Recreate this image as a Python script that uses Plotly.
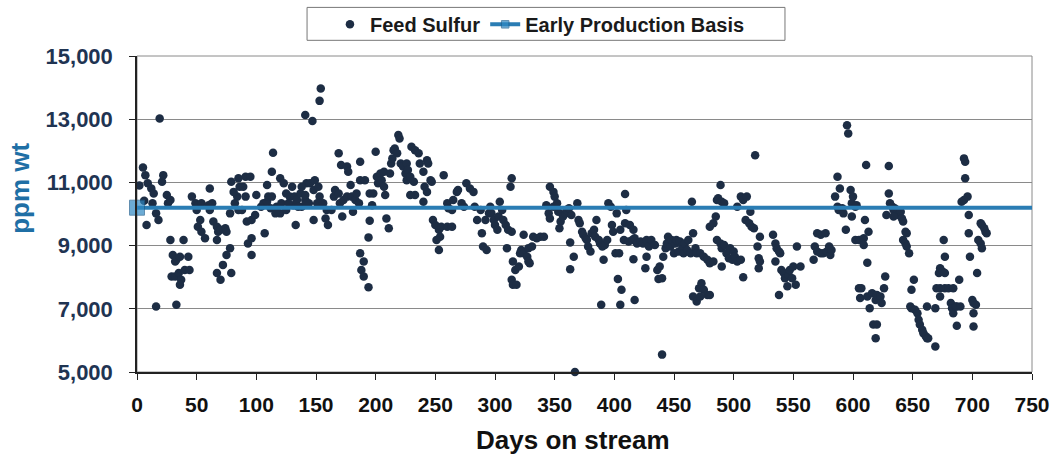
import plotly.graph_objects as go

# Feed sulfur observations (day on stream, ppm wt)
days_a = [5,2,7,9,12,14,6,8,13,16,18,19,16,21,22,25,26,28,28,39,30,32,33,36,43,29,32,35,37,36,40,44,33,
          46,49,51,54,50,53,51,54,57,61,60,63,61,64,67,68,70,74,75,67,78,75,72,67,70,79,79,85,86,84,81,82,
          91,89,91,88,85,78,95,92,96,99,93,96,96,100,107,104,106,109,110,113,109,113,114,117,120,121,120,
          123,125,128,130,132,131,134,137,138,141,142,144,133,112,116,125,127,135]
sulfur_a = [11470,10900,11230,10970,10810,10650,10420,9650,10340,10020,9810,13020,7070,11020,11230,10600,
            10340,10440,9180,9180,8700,8500,8550,8650,8650,8020,8020,8130,7920,7760,8230,8230,7130,
            10550,10340,10280,10340,10130,9810,9600,9440,9230,10810,10280,10340,10130,9760,9600,9440,9500,
            9550,9440,9180,8920,8700,8390,8130,7920,8130,11020,11130,10860,10550,10700,10340,
            11180,10860,10550,10130,10130,10020,11180,9760,9810,9970,9070,9230,8700,10600,9390,10230,10340,
            10390,10550,10550,10920,11340,11940,10230,10020,10340,11130,
            10970,10650,10550,10860,10550,10280,10440,10650,10230,10440,10970,10340,9650,10180,10020,10130,10340,10230]

days_b = [154,153,141,147,138,141,142,145,149,148,152,153,151,148,156,159,158,160,163,165,166,169,170,172,
          173,176,179,180,181,183,184,186,169,171,176,177,187,187,191,187,190,188,190,194,194,195,197,195,
          198,200,201,204,207,205,202,207,208,209,211,212,213,214,215,216,218,219,220,221,223,226,225,227,
          226,229,230,233,236,232,233,229,237,240,243,244,246,241,243,240,247,257,248,250,253,254,255,251,
          253,260,264,260,261,264,265,268,269,272,274,276,279,282,283,285,288,289,290,293,292,295]
sulfur_b = [13970,13580,13130,12940,10860,10600,10340,10970,11070,10760,10860,10550,10340,9810,10340,10130,
            9860,9650,10130,10550,10760,10650,10340,9920,10440,10550,10920,10550,10070,10440,10650,10340,
            11920,11550,11500,11340,11650,11070,11070,8760,8500,8230,8020,7680,9260,9790,10280,10650,
            10650,11970,11180,11280,11340,11070,10970,10860,10600,9860,9550,11280,11600,11760,12020,12070,
            11920,12500,12390,11600,11500,11600,11280,11390,11070,11180,12130,12020,11920,11020,10600,10600,
            11600,11340,11700,11600,11070,10860,10700,10390,11020,11230,9810,9650,9500,9280,9600,9180,
            8860,9600,9600,10340,10180,10130,10440,10700,10760,10340,10230,10970,10810,10700,10230,9810,
            10130,9390,8970,8860,9810,10020]

days_c = [296,297,299,300,302,303,304,306,307,309,311,314,313,314,310,315,317,314,315,318,320,321,322,324,
          327,328,329,324,328,331,332,335,338,341,346,349,350,343,345,346,349,352,353,355,354,357,359,360,
          362,364,363,366,363,367,369,370,371,373,374,376,377,378,380,381,383,384,385,387,388,390,391,392,
          394,395,397,398,399,401,402,404,405,389,405,403,406,417,409,410,409,413,416,408,412,415,417,419,
          422,424,427,429,431,434,416,427,426,436,437,440]
sulfur_c = [10230,10020,9810,9650,9500,9920,10390,10130,9810,9650,9500,9440,10860,11130,8920,8500,8230,7920,
            7760,7760,8340,8760,8860,8760,8650,8500,8440,9340,8920,8970,9280,9230,9280,9280,10860,10700,
            10550,10280,10020,9860,10230,10340,10070,9760,9550,9920,10020,10130,10180,9970,9100,8650,8250,
            5000,10340,9810,9710,9440,9340,9230,9180,8970,8810,9390,9500,9280,9810,9180,9070,8970,8550,
            9020,9180,10340,10230,9650,9440,8760,10020,8760,9500,7130,7130,7940,7600,7280,10630,10130,9710,
            9650,9500,9180,9130,9180,9230,9070,9130,9070,9180,8970,9180,9020,8570,8650,8280,8230,7940,5550]

days_d = [438,440,441,443,444,445,447,448,450,451,452,454,455,457,458,459,461,462,464,465,466,468,469,472,
          475,478,480,483,466,469,471,473,475,478,480,472,480,483,485,486,487,489,490,492,486,489,490,492,
          494,496,497,499,500,501,503,506,490,508,503,506,508,511,510,513,514,515,517,518,520,521,522,521,
          522,533,535,536,538,539,535,540,542,543,545,546,547,549,550,552,553,556,538,570,573,577,568,570,
          573,575,578,580,581,582,567,587,589,585,587,588,591,592,594,595,596]
sulfur_d = [8340,7970,8650,8920,9070,9280,8970,9180,8760,9070,9180,8810,9130,8970,8760,9070,8860,9180,8760,
            10390,9390,8920,8760,8760,8650,8550,8440,8500,7390,7230,7650,7810,7600,7440,7440,7390,9600,
            9710,9920,10440,10500,10920,10390,10340,9180,9070,8920,9020,8760,8600,8920,8550,8810,8650,8500,
            8550,8340,8000,10230,10550,10440,10550,9810,9710,10070,9600,9550,11860,8970,8600,8500,8280,
            9280,9340,9070,8920,8810,8760,8500,8230,8130,7970,7710,8070,8230,7970,8340,7760,8970,8340,7440,
            9390,9340,9390,8970,8810,8760,8760,8810,8970,8700,8860,8550,11180,10810,10550,10230,10130,10180,
            10020,9500,12810,12550]

days_e = [598,600,599,603,602,599,602,605,609,610,609,613,612,611,630,605,607,606,612,616,614,619,620,623,
          624,626,627,617,620,619,630,631,633,634,635,637,638,640,641,642,628,634,644,645,642,644,645,647,
          651,649,648,649,652,654,655,656,658,659,661,662,663,662,669,669,672,673,675,677,670,673,673,677,
          680,684,689,682,683,684,686,687,690,687,676,677,693,694,694,696,693,691,697,697,698,700,701,703,
          701,701,704,707,708,710,711,712,705,707,708]
sulfur_e = [10760,10550,10340,10280,10230,9920,9180,9180,9230,9810,9020,9440,8460,11550,11520,7650,7650,
            7340,7390,7490,7020,7280,7440,7390,7180,7650,8020,6500,6500,6070,10650,10340,10230,10130,10180,
            10020,9970,10070,9860,9760,9970,9920,9440,9390,9180,9070,8970,8760,7920,7600,7070,7020,6970,
            6860,6650,6500,6340,6230,6130,6070,6070,7070,5810,7020,8130,8280,8180,8130,7650,7650,7390,7650,
            7650,7650,7920,7180,7020,6860,7070,7070,7070,6460,9180,8650,11760,11650,11130,10550,10440,10390,
            9970,9390,8650,7280,7180,7130,6860,6440,8130,9710,9650,9550,9440,9390,9180,9070,8920]

days = days_a + days_b + days_c + days_d + days_e
sulfur = sulfur_a + sulfur_b + sulfur_c + sulfur_d + sulfur_e

# Early production basis
basis_days = [0, 750]
basis_value = [10200, 10200]

y_ticks = [5000, 7000, 9000, 11000, 13000, 15000]
x_ticks = list(range(0, 751, 50))

FONT = "Liberation Sans, Arial, sans-serif"

fig = go.Figure()
fig.add_trace(go.Scatter(
    x=days, y=sulfur, mode="markers", name="Feed Sulfur",
    marker=dict(color="#1d2d44", size=8.5, line=dict(width=0)),
    cliponaxis=False,
))
fig.add_trace(go.Scatter(
    x=basis_days, y=basis_value, mode="lines+markers", name="Early Production Basis",
    line=dict(color="#2a7db4", width=4),
    marker=dict(symbol="square", size=[15, 0], color="#2f88c2",
                line=dict(color="#1f5f8f", width=1)),
    cliponaxis=False,
))

fig.update_layout(
    width=1056, height=457,
    margin=dict(l=137, r=24, t=56, b=85, autoexpand=False),
    paper_bgcolor="white", plot_bgcolor="white",
    font=dict(family=FONT, color="#111111"),
    showlegend=True,
    legend=dict(
        orientation="h", x=0.2156, xanchor="left", y=1.162, yanchor="top",
        borderwidth=0, bgcolor="rgba(0,0,0,0)",
        font=dict(family=FONT, size=20, weight="bold", color="#1a1a1a"),
        itemwidth=30, traceorder="normal",
    ),
    shapes=[
        dict(type="rect", xref="paper", yref="paper", x0=0, x1=1, y0=0, y1=1,
             line=dict(color="#8a8a8a", width=1), layer="below"),
        dict(type="rect", xref="paper", yref="paper", x0=0.19, x1=0.724, y0=1.0496, y1=1.1538,
             line=dict(color="#777777", width=1), fillcolor="white", layer="below"),
    ],
    annotations=[
        dict(text="ppm wt", textangle=-90, xref="paper", yref="paper",
             x=-0.131, y=0.582, xanchor="center", yanchor="middle", showarrow=False,
             font=dict(family=FONT, size=26, weight="bold", color="#1f6fa5")),
        dict(text="Days on stream", xref="paper", yref="paper",
             x=0.487, y=-0.2138, xanchor="center", yanchor="middle", showarrow=False,
             font=dict(family=FONT, size=26, weight="bold", color="#111111")),
    ],
)
fig.update_xaxes(
    range=[0, 750], tickvals=x_ticks, showgrid=False, zeroline=False,
    showline=True, linecolor="#222222", linewidth=1.5,
    ticks="outside", ticklen=6, tickcolor="#222222", ticklabelstandoff=7,
    tickfont=dict(family=FONT, size=21, weight="bold", color="#111111"),
)
fig.update_yaxes(
    range=[5000, 15000], tickvals=y_ticks, tickformat=",d",
    showgrid=True, gridcolor="#8a8a8a", gridwidth=1, zeroline=False,
    showline=True, linecolor="#222222", linewidth=1.5,
    ticks="outside", ticklen=6, tickcolor="#222222", ticklabelstandoff=12,
    tickfont=dict(family=FONT, size=22, weight="bold", color="#1f3452"),
)

fig.write_html("out.html")
